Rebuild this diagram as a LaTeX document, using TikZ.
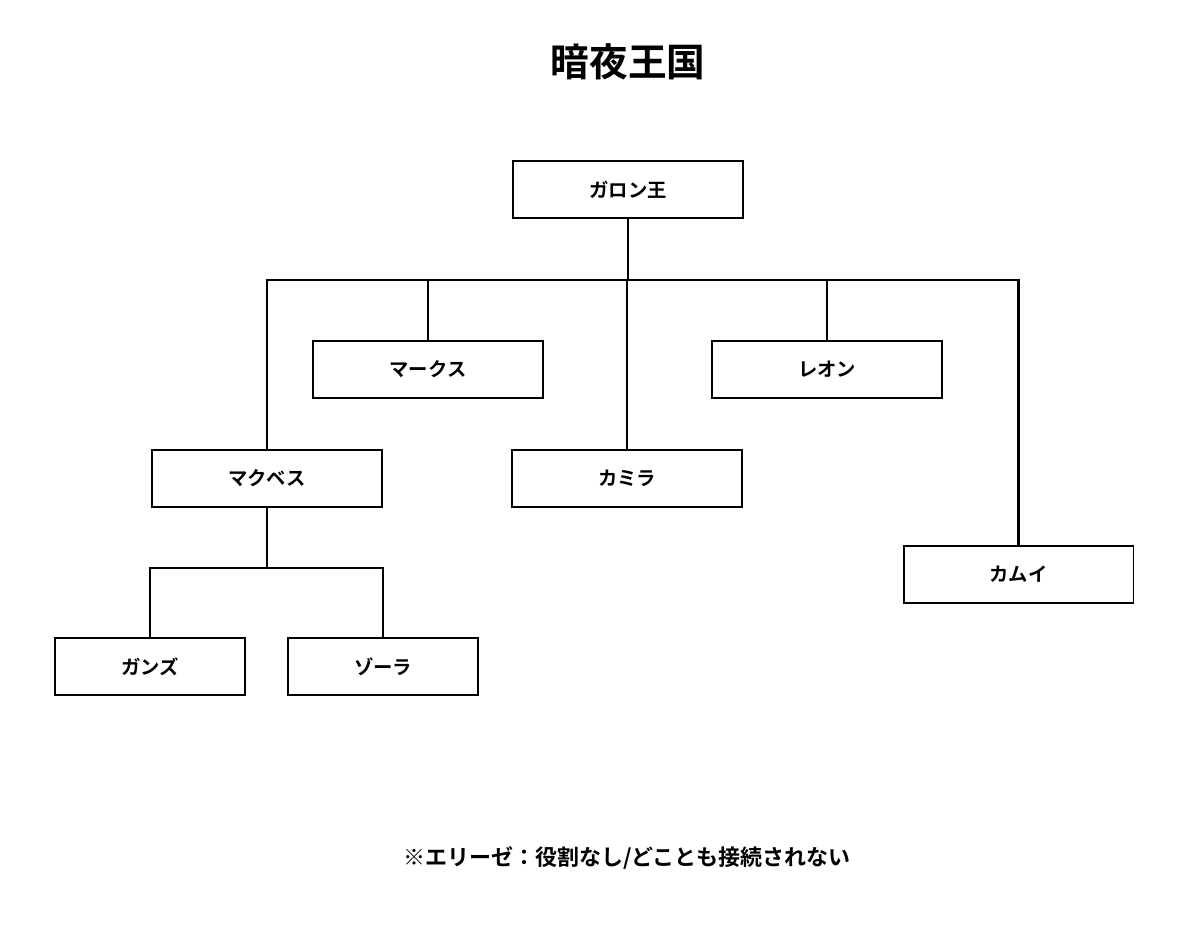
\documentclass[tikz,border=0pt]{standalone}
\usepackage{fontspec}
\newfontfamily\jp{Noto Sans CJK JP}[BoldFont={* Bold}]
\begin{document}
\begin{tikzpicture}[x=0.02cm,y=-0.02cm,
  box/.style={draw,line width=1.1pt,minimum width=4.6cm,minimum height=1.14cm,inner sep=0pt,font=\jp\bfseries\fontsize{11}{13}\selectfont},
  sbox/.style={box,minimum width=3.8cm},
  ln/.style={line width=1.3pt}]
\useasboundingbox (0,0) rectangle (1200,933);
\node[font=\jp\bfseries\fontsize{22}{26}\selectfont] (title) at (628,62) {暗夜王国};
\node[box] (g) at (628,189.5) {ガロン王};
\node[box] (mq) at (428,369.5) {マークス};
\node[box] (le) at (827,369.5) {レオン};
\node[box] (mb) at (267,478.5) {マクベス};
\node[box] (ka) at (627,478.5) {カミラ};
\node[box] (km) at (1018.5,574.5) {カムイ};
\node[sbox] (ga) at (150,666.5) {ガンズ};
\node[sbox] (zo) at (383,666.5) {ゾーラ};
\coordinate (b1) at (628,280);
\coordinate (b2) at (267,568);
\draw[ln] (g.south) -- (b1);
\draw[ln] (mb.north) |- (km.north |- b1) -- (km.north);
\draw[ln] (mq.north) -- (mq.north |- b1);
\draw[ln] (le.north) -- (le.north |- b1);
\draw[ln] (ka.north) -- (ka.north |- b1);
\draw[ln] (mb.south) -- (b2);
\draw[ln] (ga.north) |- (zo.north |- b2) -- (zo.north);
\node[font=\jp\bfseries\fontsize{12.5}{15}\selectfont] (note) at (627,858) {※エリーゼ：役割なし/どことも接続されない};
\end{tikzpicture}
\end{document}
